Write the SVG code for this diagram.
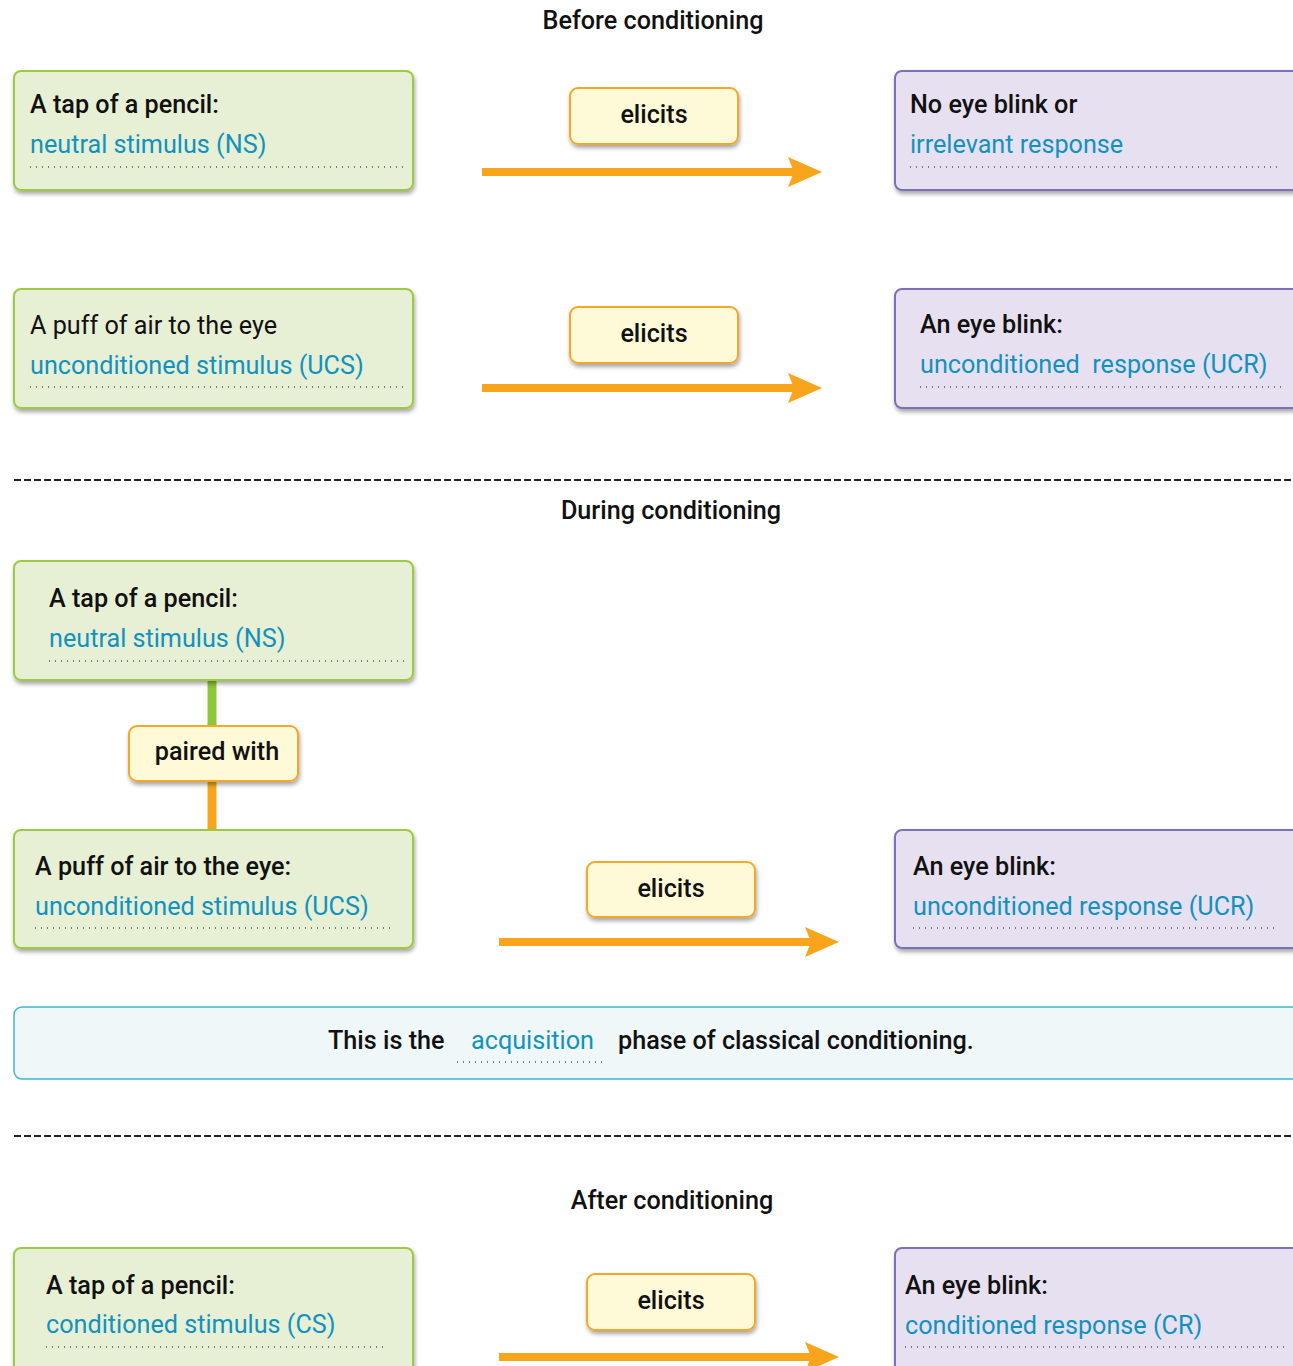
<svg xmlns="http://www.w3.org/2000/svg" width="1293" height="1366" viewBox="0 0 1293 1366">
<style>
text{font-family:Roboto,"Liberation Sans",sans-serif;font-size:25.2px;fill:#111}
.b{font-weight:500}
.h{font-weight:500;font-size:25.2px;text-anchor:middle}
.blue{fill:#1192bf}
.c{text-anchor:middle}
.g{fill:#e7efd4;stroke:#9dca40;stroke-width:2}
.p{fill:#e7e0f0;stroke:#7b70b6;stroke-width:2}
.y{fill:#fef9d6;stroke:#f5a72a;stroke-width:2}
.dot{stroke:#777;stroke-width:2;stroke-dasharray:1 5}
.dash{stroke:#222;stroke-width:2;stroke-dasharray:7 3}
.arr{stroke:#f8a51c;stroke-width:8;fill:none}
</style>
<defs>
<filter id="sh" x="-10%" y="-20%" width="120%" height="150%">
<feDropShadow dx="1" dy="3" stdDeviation="2" flood-color="#000" flood-opacity="0.35"/>
</filter>
<marker id="ah" markerUnits="userSpaceOnUse" markerWidth="40" markerHeight="34" refX="8" refY="15" orient="auto" viewBox="0 0 40 34">
<path d="M0,0 L34,15 L0,30 L6,15 Z" fill="#f8a51c"/>
</marker>
</defs>

<text class="h" x="653" y="29">Before conditioning</text>
<text class="h" x="671" y="519">During conditioning</text>
<text class="h" x="672" y="1209">After conditioning</text>

<g id="connectors">
<line class="arr" x1="482" y1="172" x2="796" y2="172" marker-end="url(#ah)"/>
<line class="arr" x1="482" y1="388" x2="796" y2="388" marker-end="url(#ah)"/>
<line class="arr" x1="499" y1="942" x2="813" y2="942" marker-end="url(#ah)"/>
<line class="arr" x1="499" y1="1357" x2="813" y2="1357" marker-end="url(#ah)"/>
<line x1="212" y1="680" x2="212" y2="727" stroke="#8fc63a" stroke-width="9"/>
<line x1="212" y1="780" x2="212" y2="831" stroke="#f8a51c" stroke-width="9"/>
</g>

<line class="dash" x1="14" y1="480" x2="1293" y2="480"/>
<line class="dash" x1="14" y1="1136" x2="1293" y2="1136"/>

<g id="ns1">
<rect class="g" x="14" y="71" width="399" height="119" rx="7" filter="url(#sh)"/>
<text class="b" x="30" y="113">A tap of a pencil:</text>
<text class="blue" x="30" y="153">neutral stimulus (NS)</text>
<line class="dot" x1="30" y1="167" x2="405" y2="167"/>
</g>
<g id="elicits1">
<rect class="y" x="570" y="88" width="168" height="56" rx="8" filter="url(#sh)"/>
<text class="b c" x="654" y="123">elicits</text>
</g>
<g id="ir1">
<rect class="p" x="895" y="71" width="405" height="119" rx="7" filter="url(#sh)"/>
<text class="b" x="910" y="113">No eye blink or</text>
<text class="blue" x="910" y="153">irrelevant response</text>
<line class="dot" x1="910" y1="167" x2="1280" y2="167"/>
</g>

<g id="ucs1">
<rect class="g" x="14" y="289" width="399" height="119" rx="7" filter="url(#sh)"/>
<text x="30" y="334">A puff of air to the eye</text>
<text class="blue" x="30" y="374">unconditioned stimulus (UCS)</text>
<line class="dot" x1="30" y1="387" x2="405" y2="387"/>
</g>
<g id="elicits2">
<rect class="y" x="570" y="307" width="168" height="56" rx="8" filter="url(#sh)"/>
<text class="b c" x="654" y="342">elicits</text>
</g>
<g id="ucr1">
<rect class="p" x="895" y="289" width="405" height="119" rx="7" filter="url(#sh)"/>
<text class="b" x="920" y="333">An eye blink:</text>
<text class="blue" x="920" y="373" xml:space="preserve">unconditioned  response (UCR)</text>
<line class="dot" x1="920" y1="387" x2="1282" y2="387"/>
</g>

<g id="ns2">
<rect class="g" x="14" y="561" width="399" height="119" rx="7" filter="url(#sh)"/>
<text class="b" x="49" y="607">A tap of a pencil:</text>
<text class="blue" x="49" y="647">neutral stimulus (NS)</text>
<line class="dot" x1="49" y1="661" x2="405" y2="661"/>
</g>
<g id="paired">
<rect class="y" x="129" y="726" width="169" height="55" rx="8" filter="url(#sh)"/>
<text class="b c" x="217" y="760">paired with</text>
</g>
<g id="ucs2">
<rect class="g" x="14" y="830" width="399" height="118" rx="7" filter="url(#sh)"/>
<text class="b" x="35" y="875">A puff of air to the eye:</text>
<text class="blue" x="35" y="915">unconditioned stimulus (UCS)</text>
<line class="dot" x1="35" y1="928" x2="395" y2="928"/>
</g>
<g id="elicits3">
<rect class="y" x="587" y="862" width="168" height="55" rx="8" filter="url(#sh)"/>
<text class="b c" x="671" y="897">elicits</text>
</g>
<g id="ucr2">
<rect class="p" x="895" y="830" width="405" height="118" rx="7" filter="url(#sh)"/>
<text class="b" x="913" y="875">An eye blink:</text>
<text class="blue" x="913" y="915">unconditioned response (UCR)</text>
<line class="dot" x1="913" y1="928" x2="1277" y2="928"/>
</g>

<g id="acquisition">
<rect x="14" y="1007" width="1286" height="72" rx="8" fill="#eff7f9" stroke="#3fb6c9" stroke-width="1.5"/>
<text class="b" x="328" y="1049">This is the</text>
<text class="blue" x="471" y="1049">acquisition</text>
<line class="dot" x1="457" y1="1062" x2="606" y2="1062"/>
<text class="b" x="618" y="1049">phase of classical conditioning.</text>
</g>

<g id="cs">
<rect class="g" x="14" y="1248" width="399" height="130" rx="7" filter="url(#sh)"/>
<text class="b" x="46" y="1294">A tap of a pencil:</text>
<text class="blue" x="46" y="1333">conditioned stimulus (CS)</text>
<line class="dot" x1="46" y1="1347" x2="385" y2="1347"/>
</g>
<g id="elicits4">
<rect class="y" x="587" y="1274" width="168" height="56" rx="8" filter="url(#sh)"/>
<text class="b c" x="671" y="1309">elicits</text>
</g>
<g id="cr">
<rect class="p" x="895" y="1248" width="405" height="130" rx="7" filter="url(#sh)"/>
<text class="b" x="905" y="1294">An eye blink:</text>
<text class="blue" x="905" y="1334">conditioned response (CR)</text>
<line class="dot" x1="905" y1="1347" x2="1285" y2="1347"/>
</g>
</svg>
